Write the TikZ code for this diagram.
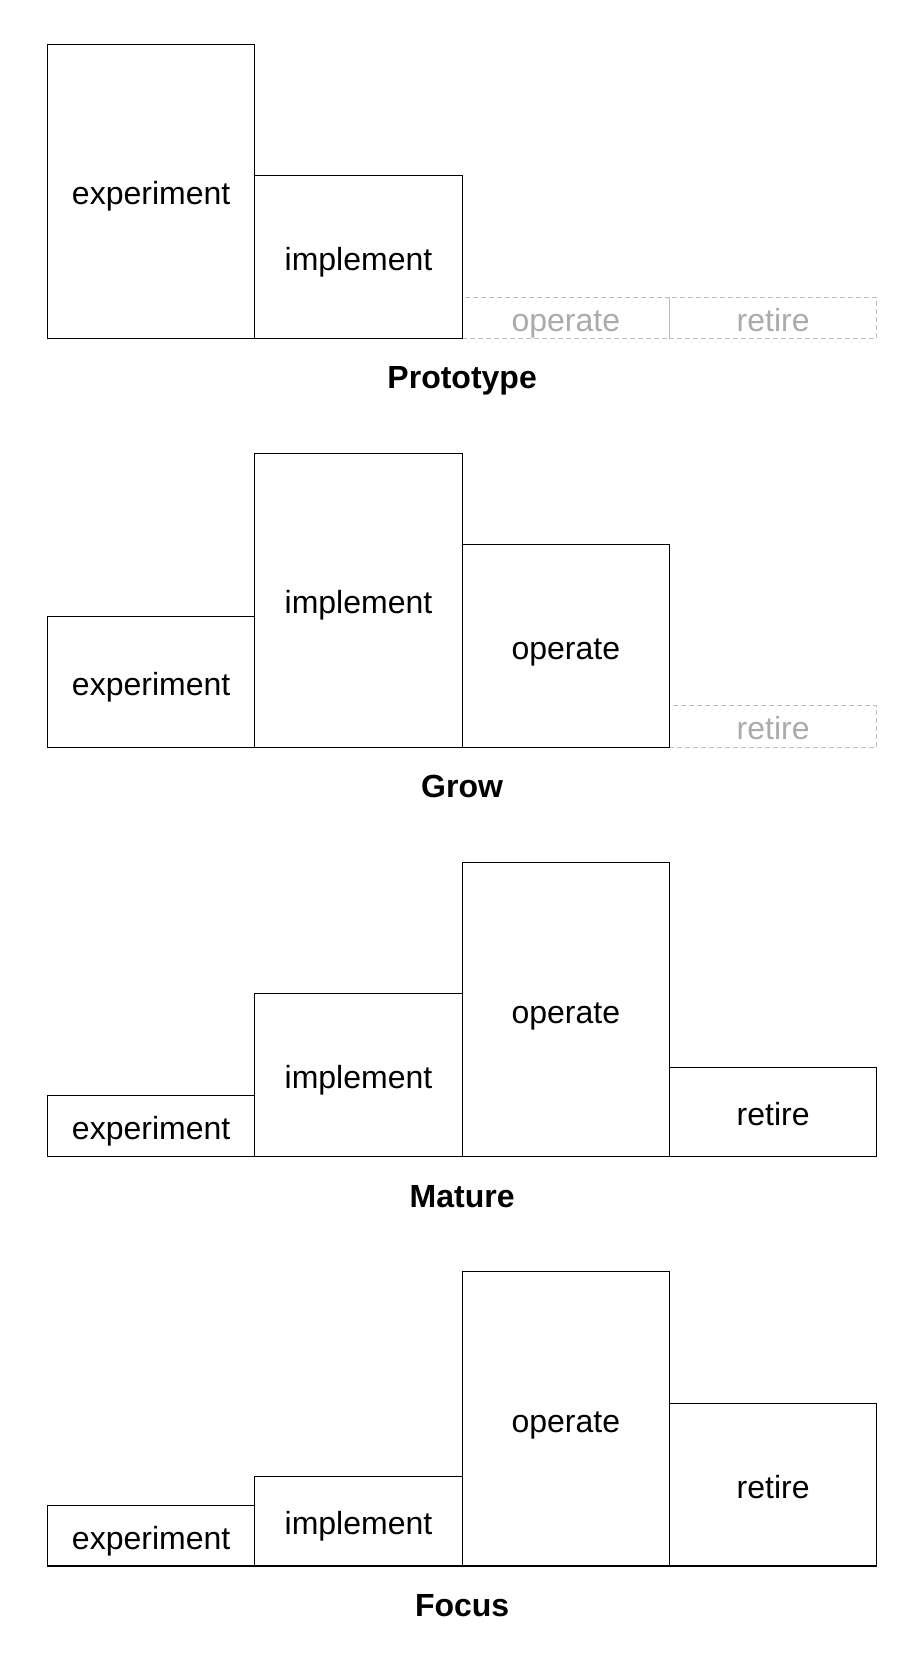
\documentclass[tikz,border=0pt]{standalone}
\usepackage{fontspec}
\setmainfont{Liberation Sans}
\usetikzlibrary{positioning,backgrounds}
\definecolor{phaseGhost}{HTML}{BDBDBD}
\definecolor{phaseGhostTxt}{HTML}{ABABAB}

\begin{document}
\begin{tikzpicture}[
  ph/.style={draw=black,line width=0.8pt,minimum width=155.5pt,
             inner sep=0pt,outer sep=0pt,anchor=south west,
             text height=22pt,text depth=2pt,
             font=\fontsize{24}{28}\selectfont},
  ghost/.style={ph,draw=phaseGhost,dash pattern=on 3.75pt off 2.25pt,
                text=phaseGhostTxt},
  lbl/.style={anchor=base,font=\fontsize{24}{28}\selectfont\bfseries}]
  \useasboundingbox (0,0) rectangle (693pt,1240.5pt);
  % Prototype
  \node[ph,minimum height=220.7pt] (pe) at (35.6pt,986.6pt) {experiment};
  \node[ph,minimum height=122pt]   (pi) at (pe.south east) {implement};
  \begin{scope}[on background layer]
    \node[ghost,minimum height=31pt] (po) at (pi.south east) {operate};
    \node[ghost,minimum height=31pt] (pr) at (po.south east) {retire};
  \end{scope}
  \node[lbl] (plbl) at ([yshift=-37.6pt]pi.south east) {Prototype};
  % Grow
  \node[ph,minimum height=98.1pt]  (ge) at (35.6pt,679.7pt) {experiment};
  \node[ph,minimum height=220.7pt] (gi) at (ge.south east) {implement};
  \node[ph,minimum height=152.7pt] (go) at (gi.south east) {operate};
  \begin{scope}[on background layer]
    \node[ghost,minimum height=31.6pt] (gr) at (go.south east) {retire};
  \end{scope}
  \node[lbl] (glbl) at ([yshift=-37.6pt]gi.south east) {Grow};
  % Mature
  \node[ph,minimum height=45.9pt]  (me) at (35.6pt,372.8pt) {experiment};
  \node[ph,minimum height=122.6pt] (mi) at (me.south east) {implement};
  \node[ph,minimum height=220.7pt] (mo) at (mi.south east) {operate};
  \node[ph,minimum height=67.2pt]  (mr) at (mo.south east) {retire};
  \node[lbl] (mlbl) at ([yshift=-37.6pt]mi.south east) {Mature};
  % Focus
  \node[ph,minimum height=45.1pt]  (fe) at (35.6pt,66.0pt) {experiment};
  \node[ph,minimum height=67.2pt]  (fi) at (fe.south east) {implement};
  \node[ph,minimum height=220.7pt] (fo) at (fi.south east) {operate};
  \node[ph,minimum height=121.8pt] (fr) at (fo.south east) {retire};
  \node[lbl] (flbl) at ([yshift=-37.6pt]fi.south east) {Focus};
\end{tikzpicture}
\end{document}
